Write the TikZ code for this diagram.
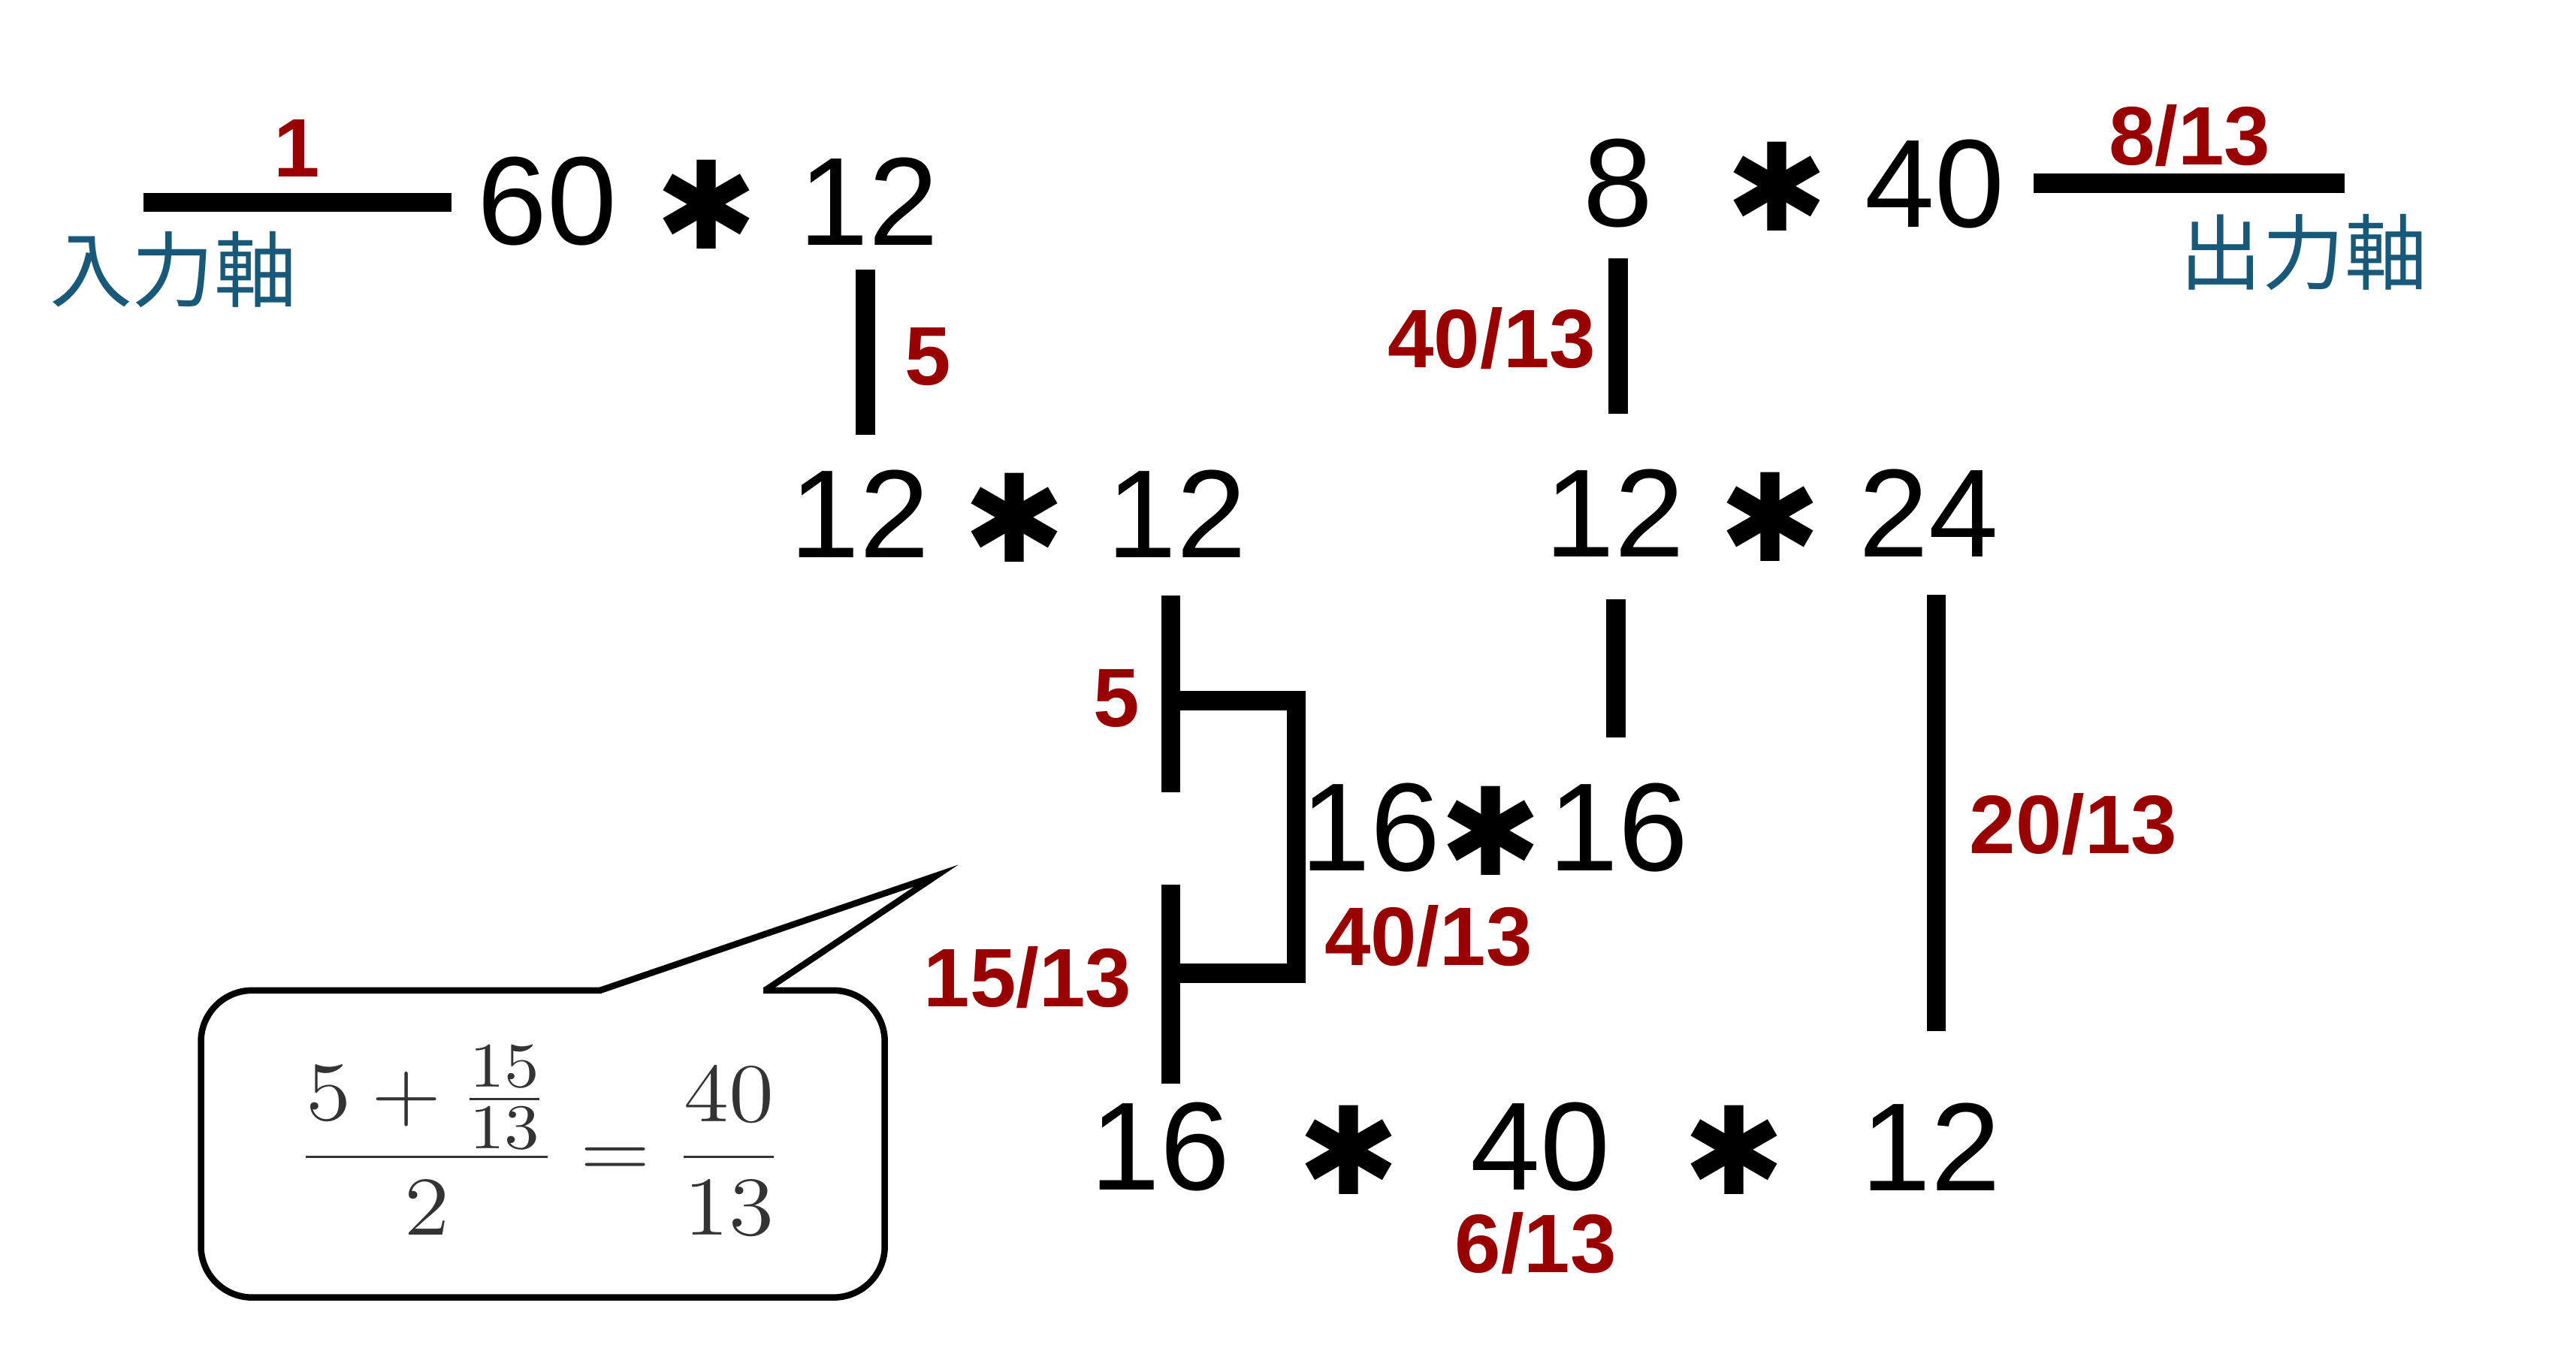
\documentclass[tikz,border=0pt]{standalone}
\usepackage[no-math]{fontspec}
\setmainfont{Liberation Sans}
\newfontfamily\jpfont{Noto Sans CJK JP}
\newfontfamily\symfont{DejaVu Sans}
\usetikzlibrary{calc}
\tikzset{>=stealth}
\definecolor{ratiored}{RGB}{153,0,0}
\definecolor{axisblue}{RGB}{24,88,120}
\definecolor{mathgray}{RGB}{51,51,51}
\tikzset{
  teeth/.style={inner sep=0pt,font=\fontsize{21.6}{24}\selectfont},
  times/.style={inner sep=0pt,font=\symfont\fontsize{21}{21}\selectfont},
  ratio/.style={inner sep=0pt,text=ratiored,font=\bfseries\fontsize{14.3}{16}\selectfont},
  axis/.style={inner sep=0pt,text=axisblue,font=\jpfont\fontsize{14.2}{16}\selectfont},
  shaft/.style={line width=3.3pt},
  balloon/.style={line width=1.1pt},
}

\begin{document}
\begin{tikzpicture}[x=0.01cm,y=-0.01cm]
  \useasboundingbox (0,0) rectangle (1560,816.6);

  % input side
  \node[teeth] (in60) at (331.5,122) {60};
  \node[times] (tA) at (428,124) {✱};
  \node[teeth] (a12) at (526,122) {12};
  \node[ratio] (r1) at (180,90) {1};
  \node[axis] (inaxis) at (105,163.5) {入力軸};
  \coordinate (inend) at (87,122.7);
  \draw[shaft] (inend) -- ($(in60.west)+(-15,0.7)$);
  \draw[shaft] ($(a12.south)+(-2,14)$) -- ++(0,100);
  \node[ratio] (r5a) at (562,216) {5};

  % output side
  \node[teeth] (o8) at (980,111) {8};
  \node[times] (tD) at (1076,113) {✱};
  \node[teeth] (o40) at (1171.5,111.5) {40};
  \node[ratio] (r813) at (1326,82) {8/13};
  \node[axis] (outaxis) at (1395,153) {出力軸};
  \coordinate (outend) at (1420,111);
  \draw[shaft] ($(o40.east)+(17,-0.5)$) -- (outend);
  \draw[shaft] ($(o8.south)+(0,18)$) -- ++(0,94);
  \node[ratio,anchor=east] (r4013a) at (967,205) {40/13};

  % second row
  \node[teeth] (b12) at (520.7,311.5) {12};
  \node[times] (tB) at (614.6,313.5) {✱};
  \node[teeth] (c12) at (712.7,311.5) {12};
  \node[teeth] (d12) at (978,311) {12};
  \node[times] (tC) at (1072,313) {✱};
  \node[teeth] (e24) at (1168,311) {24};

  % third row
  \node[teeth] (g16) at (830,501.5) {16};
  \node[times] (tE) at (903,503.5) {✱};
  \node[teeth] (h16) at (980,501.5) {16};

  % bottom row
  \node[teeth] (f16) at (702.5,694.6) {16};
  \node[times] (tF) at (817,696.6) {✱};
  \node[teeth] (f40) at (932.7,694.6) {40};
  \node[times] (tG) at (1050.4,696.6) {✱};
  \node[teeth] (f12) at (1169.5,694.6) {12};
  \node[ratio] (r613) at (930,753.4) {6/13};

  % shafts between the rows
  \draw[shaft] (709,361) -- (709,480);
  \draw[shaft] (709,536) -- (709,656.4);
  \draw[shaft] (709,424.5) -- (785,424.5) -- (785,589.6) -- (709,589.6);
  \draw[shaft] ($(d12.south)+(0.5,25)$) -- ++(0,83.5);
  \draw[shaft] ($(e24.south)+(4.7,22)$) -- ($(f12.north)+(3.2,-42.6)$);
  \node[ratio] (r5b) at (676,423) {5};
  \node[ratio,anchor=east] (r1513) at (686,592) {15/13};
  \node[ratio] (r4013b) at (865,567) {40/13};
  \node[ratio] (r2013) at (1255.7,499.5) {20/13};

  % the balloon
  \draw[balloon,rounded corners=0.31cm] (121.7,600) rectangle (535.8,786);
  \fill[white] (364.5,596) rectangle (462.3,604);
  \draw[balloon] (363.4,600) -- (567,530.5) -- (463.3,600);
  \node[text=mathgray,inner sep=0pt,font=\fontsize{15}{18}\selectfont] (avg) at (327,691)
    {\scalebox{1.1}[1]{$\displaystyle\frac{5+\frac{15}{13}}{2}=\frac{40}{13}$}};
\end{tikzpicture}
\end{document}
